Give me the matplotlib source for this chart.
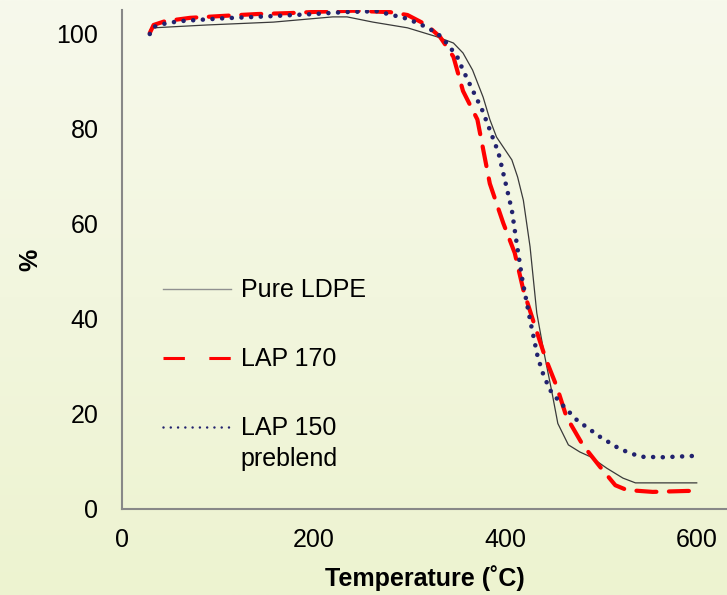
import numpy as np
import matplotlib
matplotlib.use('Agg')
import matplotlib.pyplot as plt
from matplotlib.colors import LinearSegmentedColormap
from matplotlib.lines import Line2D

plt.rcParams['font.family'] = ['Liberation Sans', 'DejaVu Sans']

# --- data ---
ldpe_T = [29, 33, 89, 158, 220, 235, 262, 298, 329, 346, 356, 366, 377, 384, 391,
          398, 407, 413, 419, 426, 433, 440, 449, 455, 466, 478, 489, 506, 523, 536, 600]
ldpe_w = [100.8, 101.3, 101.9, 102.5, 103.6, 103.6, 102.5, 101.3, 99.4, 98.1, 96.0,
          92.4, 86.7, 82.0, 78.3, 76.2, 73.5, 69.9, 65.0, 55.2, 41.3, 33.5, 24.4, 18.0,
          13.5, 12.0, 11.0, 8.6, 6.5, 5.5, 5.5]

lap170_T = [29, 33, 45, 71, 105, 141, 175, 207, 241, 280, 298, 318, 332, 346, 356,
            371, 384, 398, 410, 419, 429, 442, 454, 464, 481, 499, 515, 527, 554, 590, 600]
lap170_w = [100.2, 101.9, 102.7, 103.4, 103.8, 104.2, 104.4, 104.7, 104.9, 104.6, 104.0,
            101.9, 99.4, 95.2, 88.0, 82.0, 68.5, 60.2, 53.9, 46.1, 39.8, 31.8, 25.7,
            19.4, 13.5, 8.9, 5.0, 4.0, 3.6, 3.8, 3.8]

lap150_T = [29, 33, 45, 60, 105, 150, 200, 231, 266, 282, 298, 313, 329, 339, 350,
            356, 366, 376, 384, 393, 400, 407, 412, 418, 426, 434, 440, 447, 457, 475,
            499, 520, 541, 565, 600]
lap150_w = [100.0, 101.5, 102.2, 102.7, 103.3, 103.7, 104.2, 104.6, 104.8, 104.0, 103.2,
            101.9, 100.2, 98.1, 95.2, 92.4, 88.2, 84.0, 79.8, 75.0, 69.0, 62.9, 56.0,
            48.2, 39.8, 32.0, 28.2, 25.0, 22.5, 18.7, 15.2, 12.6, 11.0, 10.9, 11.2]

x_ticks = [0, 200, 400, 600]
y_ticks = [0, 20, 40, 60, 80, 100]

fig = plt.figure(figsize=(7.27, 5.95), dpi=100)

# gradient background
bg = fig.add_axes([0, 0, 1, 1], zorder=0)
grad = np.linspace(0, 1, 256).reshape(-1, 1)
cmap = LinearSegmentedColormap.from_list('bg', ['#F7F9EC', '#EDF3D0'])
bg.imshow(grad, aspect='auto', cmap=cmap, extent=[0, 1, 0, 1], origin='upper')
bg.axis('off')

ax = fig.add_axes([122/727, 1 - 509/595, 605/727, 499/595], zorder=1)
ax.patch.set_alpha(0)

ax.plot(ldpe_T, ldpe_w, color='#3a3a3a', lw=0.9)
ax.plot(lap170_T, lap170_w, color='#FF0000', lw=3, dashes=(4.8, 3.0),
        dash_capstyle='round')
ax.plot(lap150_T, lap150_w, color='#22226E', lw=3.3, dashes=(0.01, 2.1),
        dash_capstyle='round')

ax.set_xlim(0, 631.6)
ax.set_ylim(0, 105.05)
ax.set_xticks(x_ticks)
ax.set_yticks(y_ticks)
ax.tick_params(axis='both', length=0, labelsize=18)
ax.tick_params(axis='x', pad=14)
ax.tick_params(axis='y', pad=17)

for s in ['top', 'right']:
    ax.spines[s].set_visible(False)
for s in ['left', 'bottom']:
    ax.spines[s].set_color('#888888')
    ax.spines[s].set_linewidth(1.5)

ax.set_xlabel('Temperature (\u02daC)', fontsize=18, fontweight='bold', labelpad=9)
ax.set_ylabel('%', fontsize=18, fontweight='bold', labelpad=10)

# legend proxies (thinner than the plotted lines, like the original)
h1 = Line2D([], [], color='#909090', lw=1)
h2 = Line2D([], [], color='#FF0000', lw=2.2, dashes=(7, 8))
h3 = Line2D([], [], color='#22226E', lw=1.8, dashes=(0.01, 2.9), dash_capstyle='round')
leg = ax.legend([h1, h2, h3], ['Pure LDPE', 'LAP 170', 'LAP 150'],
                loc='upper left', bbox_to_anchor=(0.0678, 0.462), frameon=False,
                fontsize=18, handlelength=2.7, handletextpad=0.4, labelspacing=1.8,
                borderpad=0, borderaxespad=0)

# second line of the last legend label, placed under "LAP 150"
fig.canvas.draw()
bb = leg.get_texts()[2].get_window_extent()
x0, y0 = ax.transAxes.inverted().transform((bb.x0, bb.y0))
ax.text(x0, y0 - 7/499, 'preblend', transform=ax.transAxes, ha='left', va='top',
        fontsize=18)

fig.savefig('out.png', dpi=100)
